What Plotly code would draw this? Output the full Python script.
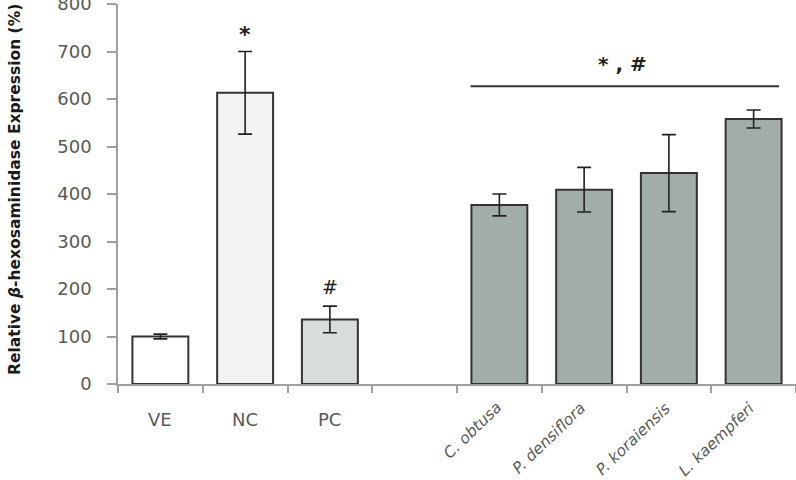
import plotly.graph_objects as go

categories = ["VE", "NC", "PC", " ", "C. obtusa", "P. densiflora", "P. koraiensis", "L. kaempferi"]
values = [100, 613, 136, None, 377, 409, 444, 558]
errors = [5, 87, 28, None, 23, 47, 81, 19]
fill_colors = ["#ffffff", "#f1f3f3", "#d8dcdb", "#ffffff", "#a3acaa", "#a3acaa", "#a3acaa", "#a3acaa"]
y_ticks = [0, 100, 200, 300, 400, 500, 600, 700, 800]
italic_labels = ["C. obtusa", "P. densiflora", "P. koraiensis", "L. kaempferi"]
plain_labels = ["VE", "NC", "PC"]

fig = go.Figure()
fig.add_trace(go.Bar(
    x=categories, y=values, width=0.66,
    marker=dict(color=fill_colors, line=dict(color="#333333", width=2)),
    error_y=dict(type="data", array=errors, visible=True, color="#222222", thickness=1.6, width=7),
    showlegend=False,
))

axis_col = "#a0a0a0"
tick_font = dict(family="DejaVu Sans", size=18, color="#595959")

fig.update_layout(
    width=796, height=480,
    margin=dict(l=118, r=0, t=4, b=96, autoexpand=False),
    paper_bgcolor="white", plot_bgcolor="white",
    bargap=0.34,
    xaxis=dict(
        type="category", categoryorder="array", categoryarray=categories,
        range=[-0.5, 7.5], showticklabels=False, automargin=False,
        showline=True, linecolor=axis_col, linewidth=1.5,
        ticks="outside", ticklen=7, tickcolor=axis_col, tickwidth=1.5,
        tickson="boundaries", showgrid=False, zeroline=False,
    ),
    yaxis=dict(
        range=[0, 800], tickvals=y_ticks, ticktext=[str(v) for v in y_ticks],
        showline=True, linecolor=axis_col, linewidth=1.5, automargin=False,
        ticks="outside", ticklen=9, tickcolor=axis_col, tickwidth=1.5,
        ticklabelstandoff=12, ticklabeloverflow="allow",
        tickfont=tick_font, showgrid=False, zeroline=False,
    ),
)

for lab in plain_labels:
    fig.add_annotation(x=lab, y=0, xref="x", yref="y", text=lab, showarrow=False,
                       yanchor="middle", yshift=-35, font=tick_font)

for lab in italic_labels:
    fig.add_annotation(x=lab, y=0, xref="x", yref="y", text="<i>" + lab + "</i>", showarrow=False,
                       textangle=-44, xanchor="right", yanchor="top", xshift=8, yshift=-12,
                       font=dict(family="DejaVu Sans", size=15.5, color="#595959"))

# y-axis title
fig.add_annotation(xref="paper", yref="paper", x=-0.152, y=0.513,
                   text="Relative <i>β</i>-hexosaminidase Expression (%)",
                   textangle=-90, showarrow=False, xanchor="center", yanchor="middle",
                   font=dict(family="DejaVu Sans", size=15.5, color="#1a1a1a", weight="bold"))

# significance markers
sig_font = dict(family="DejaVu Sans", size=22, color="#222222")
fig.add_annotation(x="NC", y=735, text="<b>*</b>", showarrow=False, font=sig_font)
fig.add_annotation(x="PC", y=204, text="#", showarrow=False, font=dict(family="DejaVu Sans", size=19, color="#222222"))
fig.add_annotation(x=5.45, y=674, xref="x", yref="y", text="<b>* , #</b>", showarrow=False,
                   font=dict(family="DejaVu Sans", size=20, color="#222222"))
fig.add_shape(type="line", xref="x", yref="y", x0=3.66, x1=7.3, y0=627, y1=627,
              line=dict(color="#333333", width=2))

fig.write_html("out.html")
